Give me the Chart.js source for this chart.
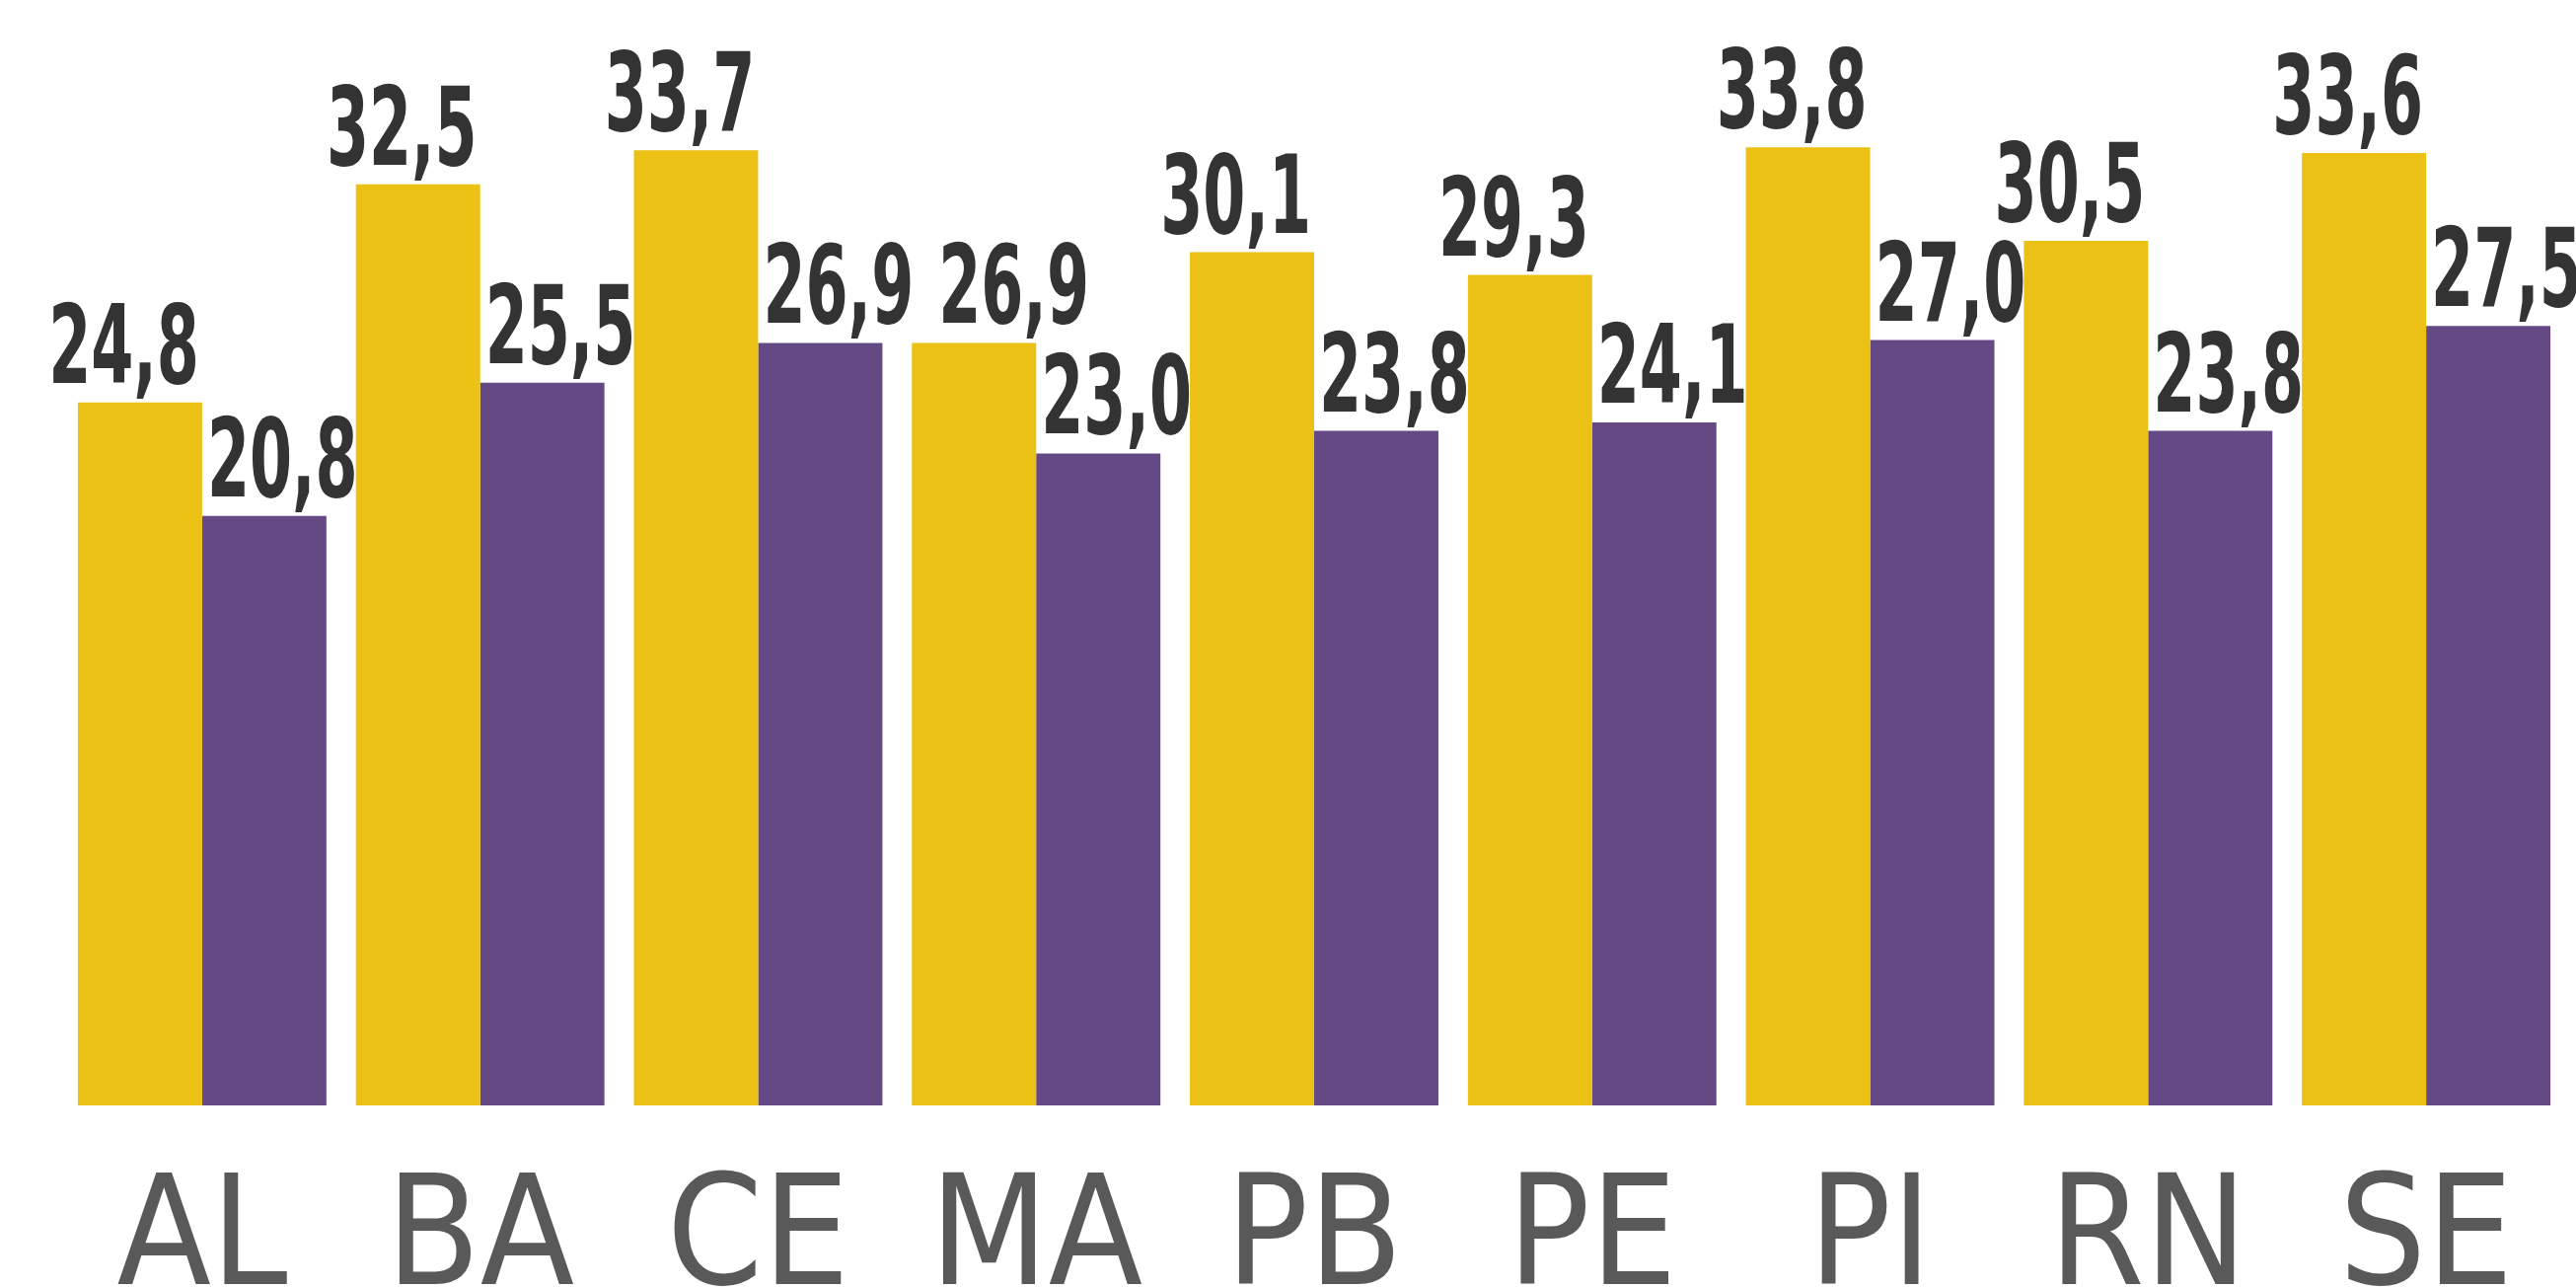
<!DOCTYPE html>
<html>
<head>
<meta charset="utf-8">
<script src="https://cdn.jsdelivr.net/npm/chart.js@4/dist/chart.umd.min.js"></script>
<style>
  html, body { margin: 0; padding: 0; background: #fff; }
  #wrap { width: 2611px; height: 1305px; }
</style>
</head>
<body>
<div id="wrap"><canvas id="chart"></canvas></div>
<script>
const states = ['AL', 'BA', 'CE', 'MA', 'PB', 'PE', 'PI', 'RN', 'SE'];
const yellowValues = [24.8, 32.5, 33.7, 26.9, 30.1, 29.3, 33.8, 30.5, 33.6];
const purpleValues = [20.8, 25.5, 26.9, 23.0, 23.8, 24.1, 27.0, 23.8, 27.5];

// value labels: yellow ones end at the bar's right edge, purple ones start at the bar's left edge
const valueLabels = {
  id: 'valueLabels',
  afterDatasetsDraw(chart) {
    const ctx = chart.ctx;
    const sx = 0.62; // squeeze to look like the condensed display face
    ctx.save();
    ctx.fillStyle = '#333333';
    ctx.font = "bold 111px 'DejaVu Sans Condensed', sans-serif";
    ctx.textAlign = 'left';
    ctx.textBaseline = 'alphabetic';
    const y0 = chart.getDatasetMeta(0).data;
    const y1 = chart.getDatasetMeta(1).data;
    let lastRight = -Infinity, lastY = 0;
    const draw = (txt, left, y) => {
      ctx.save();
      ctx.translate(left, y);
      ctx.scale(sx, 1);
      ctx.fillText(txt, 0, 0);
      ctx.restore();
    };
    states.forEach((s, j) => {
      const a = y0[j], b = y1[j];
      const t1 = yellowValues[j].toFixed(1).replace('.', ',');
      const w1 = ctx.measureText(t1).width * sx;
      let left1 = a.x + a.width / 2 - 3 - w1;
      // push right only when it would run into the previous label
      if (Math.abs(a.y - lastY) < 95 && left1 < lastRight + 25) left1 = lastRight + 25;
      draw(t1, left1, a.y - 20);
      const t2 = purpleValues[j].toFixed(1).replace('.', ',');
      const w2 = ctx.measureText(t2).width * sx;
      const left2 = b.x - b.width / 2 + 5;
      draw(t2, left2, b.y - 20);
      lastRight = left2 + w2;
      lastY = b.y;
    });
    ctx.restore();
  }
};

new Chart(document.getElementById('chart'), {
  type: 'bar',
  data: {
    labels: states,
    datasets: [
      {
        data: yellowValues,
        backgroundColor: '#ECC115',
        categoryPercentage: 0.894,
        barPercentage: 1.0,
      },
      {
        data: purpleValues,
        backgroundColor: '#654984',
        categoryPercentage: 0.894,
        barPercentage: 1.0,
      },
    ],
  },
  options: {
    responsive: true,
    maintainAspectRatio: false,
    animation: false,
    layout: { padding: { left: 64, right: 11, top: 0, bottom: 0 } },
    plugins: {
      legend: { display: false },
      tooltip: { enabled: false },
    },
    scales: {
      x: {
        grid: { display: false, drawTicks: false },
        border: { display: false },
        afterFit: axis => { axis.height = 185; },
        ticks: {
          color: '#595959',
          padding: 48,
          font: { family: "'DejaVu Sans Condensed', sans-serif", size: 155 },
        },
      },
      y: {
        display: false,
        min: 0,
        max: 39,
      },
    },
  },
  plugins: [valueLabels],
});
</script>
</body>
</html>
